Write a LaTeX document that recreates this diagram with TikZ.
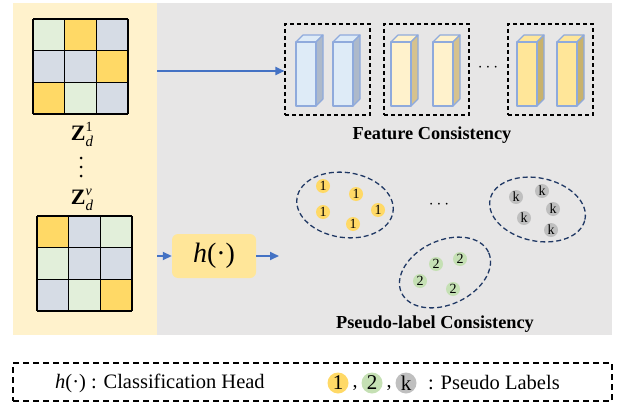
\documentclass[tikz,border=0pt]{standalone}
\usepackage{fontspec}
\setmainfont{Liberation Serif}
\usetikzlibrary{arrows.meta}
\definecolor{panely}{HTML}{FFF2CC}
\definecolor{panelg}{HTML}{E7E6E6}
\definecolor{gy}{HTML}{FFD966}
\definecolor{gg}{HTML}{E2EFDA}
\definecolor{gb}{HTML}{D6DCE5}
\definecolor{arrblue}{HTML}{4472C4}
\definecolor{hfill}{HTML}{FFE699}
\definecolor{cubout}{HTML}{8FAADC}
\definecolor{bfront}{HTML}{DEEBF7}
\definecolor{bside}{HTML}{ADB9CA}
\definecolor{yfront}{HTML}{FFF2CC}
\definecolor{yside}{HTML}{D6C28E}
\definecolor{gfront}{HTML}{FFE699}
\definecolor{gside}{HTML}{C9B26C}
\definecolor{navy}{HTML}{203864}
\definecolor{c1}{HTML}{FFD966}
\definecolor{c2}{HTML}{C5E0B4}
\definecolor{ck}{HTML}{BFBFBF}
\newcommand\cub[4]{%
 \filldraw[cubline, fill=#4] (#1,42) -- (#1+7,35) -- (#1+27,35) -- (#1+20,42) -- cycle;
 \filldraw[cubline, fill=#3] (#1+20,42) -- (#1+27,35) -- (#1+27,99) -- (#1+20,106) -- cycle;
 \filldraw[cubline, fill=#2] (#1,42) rectangle (#1+20,106);
}
\newcommand\zgrid[3]{%
 \foreach \c [count=\i from 0] in {#3} {
   \pgfmathtruncatemacro\r{div(\i,3)}
   \pgfmathtruncatemacro\cc{mod(\i,3)}
   \fill[\c] (#1+\cc*31.67, #2+\r*31.67) rectangle ++(31.67,31.67);
 }
 \foreach \k in {0,1,2,3} {
   \draw[line width=1.1pt] (#1+\k*31.67,#2) -- ++(0,95);
   \draw[line width=1.1pt] (#1,#2+\k*31.67) -- ++(95,0);
 }
}
\begin{document}
\begin{tikzpicture}[x=1pt,y=-1pt,
  cubline/.style={draw=cubout, line width=1.1pt, line join=round},
  dbox/.style={draw=black, dash pattern=on 4pt off 3pt, line width=1.1pt, inner sep=0pt},
  cluster/.style={draw=navy, dash pattern=on 5pt off 3pt, line width=1.3pt},
  arr/.style={draw=arrblue, line width=1.8pt, -{Triangle[length=9pt,width=8pt]}},
  pl/.style={circle, inner sep=0pt, minimum size=14pt, font=\fontsize{14}{14}\selectfont},
  lg/.style={circle, inner sep=0pt, minimum size=21pt, font=\fontsize{21}{21}\selectfont},
  title/.style={font=\fontsize{18.3}{18.3}\selectfont\bfseries},
  legend/.style={font=\fontsize{20.5}{22}\selectfont, anchor=west, inner sep=0pt}]
\useasboundingbox (0,0) rectangle (623,417);
% panels
\fill[panely] (13,3) rectangle (157,335);
\fill[panelg] (157,3) rectangle (612,335);
% grids
\zgrid{33}{19}{gg,gy,gb,gb,gb,gy,gy,gg,gb}
\zgrid{37}{216}{gy,gb,gg,gg,gb,gb,gb,gg,gy}
\node[font=\fontsize{22}{22}\selectfont, inner sep=0pt] (z1) at (82,134) {\textbf{Z}\rlap{\raisebox{9pt}{\fontsize{14}{14}\selectfont 1}}\raisebox{-6pt}{\fontsize{15}{15}\selectfont\textit{d}}};
\foreach \yy in {158,167,176} \fill (81,\yy) circle (1.5pt);
\node[font=\fontsize{22}{22}\selectfont, inner sep=0pt] (zv) at (82,200) {\textbf{Z}\rlap{\raisebox{9pt}{\fontsize{14}{14}\selectfont\textit{v}}}\raisebox{-6pt}{\fontsize{15}{15}\selectfont\textit{d}}};
% feature boxes
\node[dbox, minimum width=85pt, minimum height=91pt] (fb1) at (327.5,69.5) {};
\node[dbox, minimum width=85pt, minimum height=91pt] (fb2) at (426.5,69.5) {};
\node[dbox, minimum width=85pt, minimum height=91pt] (fb3) at (550.5,69.5) {};
\cub{296}{bfront}{bside}{bfront}
\cub{333}{bfront}{bside}{bfront}
\cub{391}{yfront}{yside}{yfront}
\cub{433}{yfront}{yside}{yfront}
\cub{517}{gfront}{gside}{gfront}
\cub{557}{gfront}{gside}{gfront}
\node[font=\fontsize{18}{18}\selectfont] (fdots) at (488,68) {$\cdots$};
\node[title] (ftitle) at (432,135) {Feature Consistency};
% arrows
\coordinate (a1) at (157,71);
\draw[arr] (a1) -- (a1 -| fb1.west);
\node[fill=hfill, rounded corners=6pt, minimum width=84pt, minimum height=44pt, inner sep=0pt,
  font=\fontsize{28}{28}\selectfont] (hb) at (214,256) {\textit{h}(·)};
\coordinate (a2) at (157,256);
\coordinate (a3) at (279,256);
\draw[arr] (a2) -- (hb.west);
\draw[arr] (hb.east) -- (a3);
% clusters
\draw[cluster, rotate around={-8:(345,205)}] (345,205) ellipse [x radius=48.5pt, y radius=32.5pt];
\draw[cluster, rotate around={-12:(537.5,209.5)}] (537.5,209.5) ellipse [x radius=48.5pt, y radius=31.5pt];
\draw[cluster, rotate around={25:(445,272.5)}] (445,272.5) ellipse [x radius=48pt, y radius=32pt];
\node[pl, fill=c1] (p11) at (323,186) {1};
\node[pl, fill=c1] (p12) at (356,194) {1};
\node[pl, fill=c1] (p13) at (323,212) {1};
\node[pl, fill=c1] (p14) at (378,210) {1};
\node[pl, fill=c1] (p15) at (353,224) {1};
\node[pl, fill=c2] (p21) at (436,264) {2};
\node[pl, fill=c2] (p22) at (460,259) {2};
\node[pl, fill=c2] (p23) at (420,281) {2};
\node[pl, fill=c2] (p24) at (453,289) {2};
\node[pl, fill=ck] (pk1) at (516,197) {k};
\node[pl, fill=ck] (pk2) at (542,191) {k};
\node[pl, fill=ck] (pk3) at (553,209) {k};
\node[pl, fill=ck] (pk4) at (524,218) {k};
\node[pl, fill=ck] (pk5) at (551,230) {k};
\node[font=\fontsize{18}{18}\selectfont] (cdots) at (439,205) {$\cdots$};
\node[title] (ptitle) at (435,324) {Pseudo-label Consistency};
% legend
\node[draw=black, dash pattern=on 6pt off 4pt, line width=1.1pt, minimum width=599pt, minimum height=38pt, inner sep=0pt] (leg) at (312.5,382) {};
\node[legend] (lh) at (55,383) {\textit{h}(·) : Classification Head};
\node[lg, fill=c1] (l1) at (338,383) {1};
\node[lg, fill=c2] (l2) at (372,383) {2};
\node[lg, fill=ck] (lk) at (406,383) {k};
\node[font=\fontsize{20}{20}\selectfont] (cm1) at (355,388) {,};
\node[font=\fontsize{20}{20}\selectfont] (cm2) at (389,388) {,};
\node[legend] (lp) at (428,383) {: Pseudo Labels};
\end{tikzpicture}
\end{document}
